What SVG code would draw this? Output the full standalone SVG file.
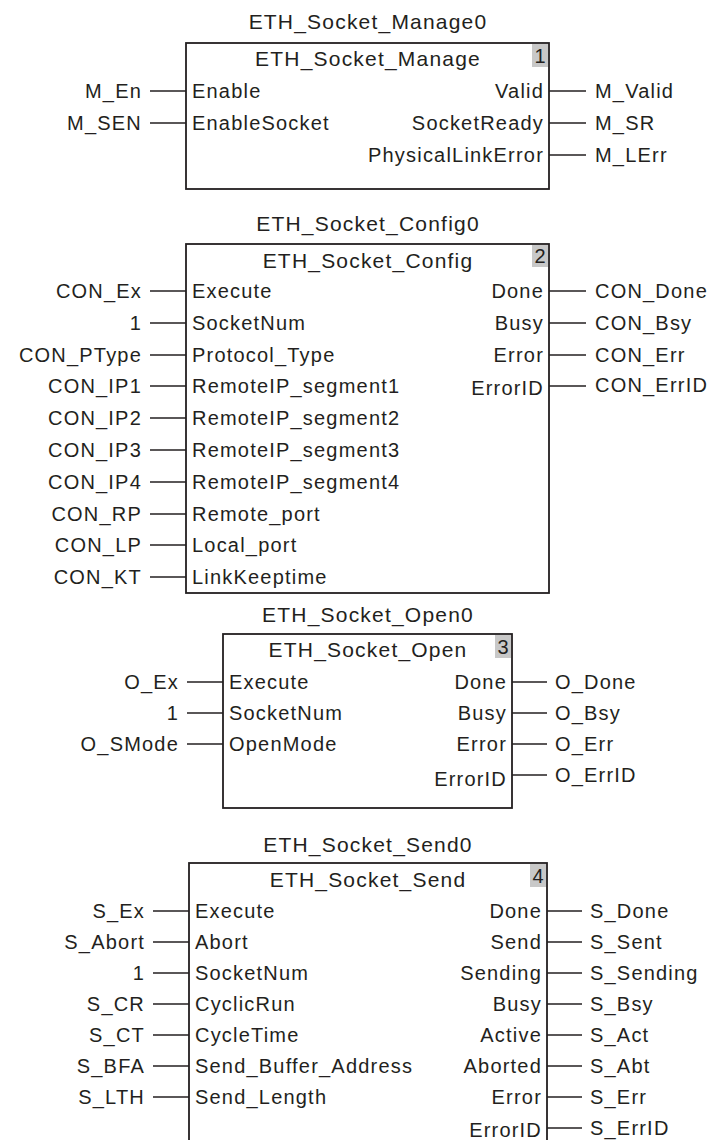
<svg xmlns="http://www.w3.org/2000/svg" width="714" height="1140" viewBox="0 0 714 1140">
<style>
text{font-family:"Liberation Sans",Arial,sans-serif;font-size:20px;fill:#231f20;letter-spacing:1.2px}
.t{font-size:21px;text-anchor:middle}
.e{text-anchor:end}
.n{text-anchor:middle;font-size:20px;letter-spacing:0}
.box{fill:#fff;stroke:#231f20;stroke-width:1.8}
.tag{fill:#c8c8c8;stroke:none}
.c line{stroke:#231f20;stroke-width:1.5}
</style>
<rect width="714" height="1140" fill="#fff"/>
<g id="manage">
<text class="t" x="368" y="29">ETH_Socket_Manage0</text>
<rect class="box" x="186" y="43" width="363" height="146"/>
<rect class="tag" x="532" y="44" width="16" height="23"/>
<text class="n" x="540" y="63">1</text>
<text class="t" x="368" y="66">ETH_Socket_Manage</text>
<text x="192" y="98">Enable</text>
<text x="192" y="130">EnableSocket</text>
<text class="e" x="544" y="98">Valid</text>
<text class="e" x="544" y="130">SocketReady</text>
<text class="e" x="544" y="162">PhysicalLinkError</text>
<text class="e" x="142" y="98">M_En</text>
<text class="e" x="142" y="130">M_SEN</text>
<text x="595" y="98">M_Valid</text>
<text x="595" y="130">M_SR</text>
<text x="595" y="162">M_LErr</text>
</g>
<g id="config">
<text class="t" x="368" y="231">ETH_Socket_Config0</text>
<rect class="box" x="186" y="244" width="363" height="349"/>
<rect class="tag" x="532" y="245" width="16" height="22"/>
<text class="n" x="540" y="263">2</text>
<text class="t" x="368" y="268">ETH_Socket_Config</text>
<text x="192" y="298">Execute</text>
<text x="192" y="330">SocketNum</text>
<text x="192" y="362">Protocol_Type</text>
<text x="192" y="393">RemoteIP_segment1</text>
<text x="192" y="425">RemoteIP_segment2</text>
<text x="192" y="457">RemoteIP_segment3</text>
<text x="192" y="489">RemoteIP_segment4</text>
<text x="192" y="521">Remote_port</text>
<text x="192" y="552">Local_port</text>
<text x="192" y="584">LinkKeeptime</text>
<text class="e" x="544" y="298">Done</text>
<text class="e" x="544" y="330">Busy</text>
<text class="e" x="544" y="362">Error</text>
<text class="e" x="544" y="395">ErrorID</text>
<text class="e" x="142" y="298">CON_Ex</text>
<text class="e" x="142" y="330">1</text>
<text class="e" x="142" y="362">CON_PType</text>
<text class="e" x="142" y="393">CON_IP1</text>
<text class="e" x="142" y="425">CON_IP2</text>
<text class="e" x="142" y="457">CON_IP3</text>
<text class="e" x="142" y="489">CON_IP4</text>
<text class="e" x="142" y="521">CON_RP</text>
<text class="e" x="142" y="552">CON_LP</text>
<text class="e" x="142" y="584">CON_KT</text>
<text x="595" y="298">CON_Done</text>
<text x="595" y="330">CON_Bsy</text>
<text x="595" y="362">CON_Err</text>
<text x="595" y="392">CON_ErrID</text>
</g>
<g id="open">
<text class="t" x="368" y="622">ETH_Socket_Open0</text>
<rect class="box" x="223" y="634" width="289" height="174"/>
<rect class="tag" x="495" y="635" width="16" height="23"/>
<text class="n" x="503" y="654">3</text>
<text class="t" x="368" y="657">ETH_Socket_Open</text>
<text x="229" y="689">Execute</text>
<text x="229" y="720">SocketNum</text>
<text x="229" y="751">OpenMode</text>
<text class="e" x="507" y="689">Done</text>
<text class="e" x="507" y="720">Busy</text>
<text class="e" x="507" y="751">Error</text>
<text class="e" x="507" y="786">ErrorID</text>
<text class="e" x="179" y="689">O_Ex</text>
<text class="e" x="179" y="720">1</text>
<text class="e" x="179" y="751">O_SMode</text>
<text x="555" y="689">O_Done</text>
<text x="555" y="720">O_Bsy</text>
<text x="555" y="751">O_Err</text>
<text x="555" y="782">O_ErrID</text>
</g>
<g id="send">
<text class="t" x="368" y="852">ETH_Socket_Send0</text>
<rect class="box" x="189" y="863" width="358" height="290"/>
<rect class="tag" x="530" y="864" width="16" height="23"/>
<text class="n" x="538" y="883">4</text>
<text class="t" x="368" y="887">ETH_Socket_Send</text>
<text x="195" y="918">Execute</text>
<text x="195" y="949">Abort</text>
<text x="195" y="980">SocketNum</text>
<text x="195" y="1011">CyclicRun</text>
<text x="195" y="1042">CycleTime</text>
<text x="195" y="1073">Send_Buffer_Address</text>
<text x="195" y="1104">Send_Length</text>
<text class="e" x="542" y="918">Done</text>
<text class="e" x="542" y="949">Send</text>
<text class="e" x="542" y="980">Sending</text>
<text class="e" x="542" y="1011">Busy</text>
<text class="e" x="542" y="1042">Active</text>
<text class="e" x="542" y="1073">Aborted</text>
<text class="e" x="542" y="1104">Error</text>
<text class="e" x="542" y="1137">ErrorID</text>
<text class="e" x="145" y="918">S_Ex</text>
<text class="e" x="145" y="949">S_Abort</text>
<text class="e" x="145" y="980">1</text>
<text class="e" x="145" y="1011">S_CR</text>
<text class="e" x="145" y="1042">S_CT</text>
<text class="e" x="145" y="1073">S_BFA</text>
<text class="e" x="145" y="1104">S_LTH</text>
<text x="590" y="918">S_Done</text>
<text x="590" y="949">S_Sent</text>
<text x="590" y="980">S_Sending</text>
<text x="590" y="1011">S_Bsy</text>
<text x="590" y="1042">S_Act</text>
<text x="590" y="1073">S_Abt</text>
<text x="590" y="1104">S_Err</text>
<text x="590" y="1135">S_ErrID</text>
</g>
<g id="connectors" class="c">
<line x1="150" y1="91" x2="186" y2="91"/>
<line x1="150" y1="123" x2="186" y2="123"/>
<line x1="549" y1="91" x2="586" y2="91"/>
<line x1="549" y1="123" x2="586" y2="123"/>
<line x1="549" y1="155" x2="586" y2="155"/>
<line x1="150" y1="291" x2="186" y2="291"/>
<line x1="150" y1="323" x2="186" y2="323"/>
<line x1="150" y1="355" x2="186" y2="355"/>
<line x1="150" y1="386" x2="186" y2="386"/>
<line x1="150" y1="418" x2="186" y2="418"/>
<line x1="150" y1="450" x2="186" y2="450"/>
<line x1="150" y1="482" x2="186" y2="482"/>
<line x1="150" y1="514" x2="186" y2="514"/>
<line x1="150" y1="545" x2="186" y2="545"/>
<line x1="150" y1="577" x2="186" y2="577"/>
<line x1="549" y1="291" x2="586" y2="291"/>
<line x1="549" y1="323" x2="586" y2="323"/>
<line x1="549" y1="355" x2="586" y2="355"/>
<line x1="549" y1="386" x2="586" y2="386"/>
<line x1="187" y1="682" x2="223" y2="682"/>
<line x1="187" y1="713" x2="223" y2="713"/>
<line x1="187" y1="744" x2="223" y2="744"/>
<line x1="512" y1="682" x2="547" y2="682"/>
<line x1="512" y1="713" x2="547" y2="713"/>
<line x1="512" y1="744" x2="547" y2="744"/>
<line x1="512" y1="775" x2="547" y2="775"/>
<line x1="153" y1="911" x2="189" y2="911"/>
<line x1="153" y1="942" x2="189" y2="942"/>
<line x1="153" y1="973" x2="189" y2="973"/>
<line x1="153" y1="1004" x2="189" y2="1004"/>
<line x1="153" y1="1035" x2="189" y2="1035"/>
<line x1="153" y1="1066" x2="189" y2="1066"/>
<line x1="153" y1="1097" x2="189" y2="1097"/>
<line x1="547" y1="911" x2="582" y2="911"/>
<line x1="547" y1="942" x2="582" y2="942"/>
<line x1="547" y1="973" x2="582" y2="973"/>
<line x1="547" y1="1004" x2="582" y2="1004"/>
<line x1="547" y1="1035" x2="582" y2="1035"/>
<line x1="547" y1="1066" x2="582" y2="1066"/>
<line x1="547" y1="1097" x2="582" y2="1097"/>
<line x1="547" y1="1128" x2="582" y2="1128"/>
</g>
</svg>
